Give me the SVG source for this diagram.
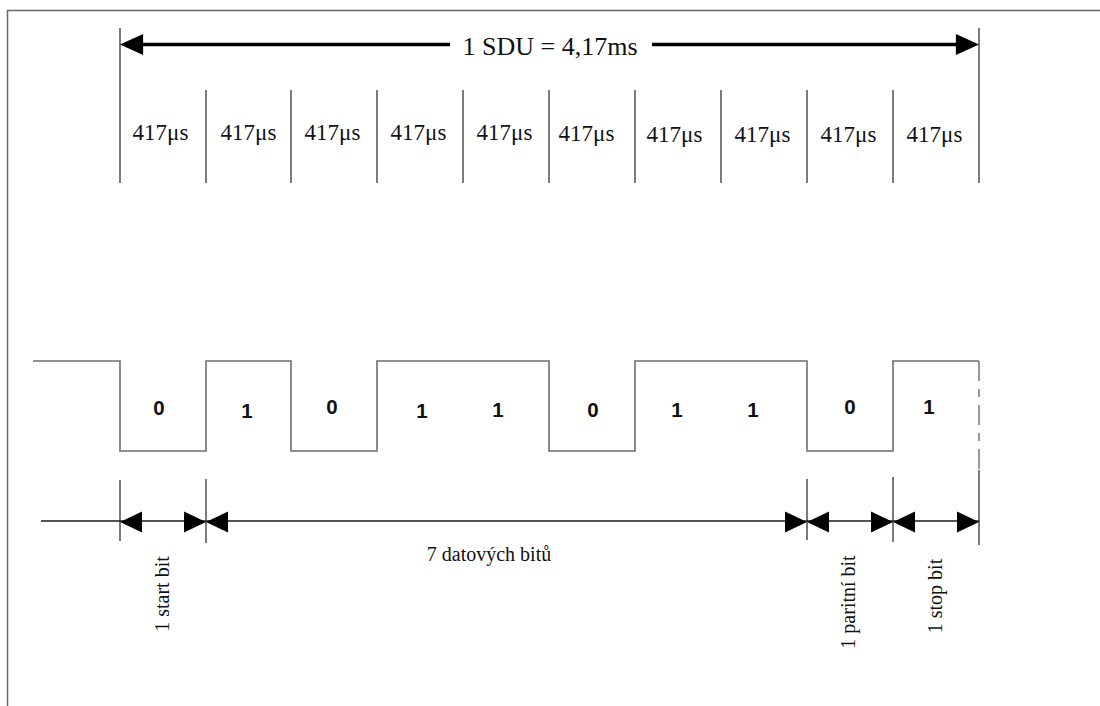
<svg xmlns="http://www.w3.org/2000/svg" width="1100" height="706" viewBox="0 0 1100 706">
<style>
.serif{font-family:"Liberation Serif","Times New Roman",serif;fill:#111}
.us{font-size:23px;text-anchor:middle}
.bit{font-family:"Liberation Sans",Arial,sans-serif;font-weight:bold;font-size:20.5px;text-anchor:middle;fill:#111}
.lbl{font-size:20px;text-anchor:middle}
.tick{stroke:#222;stroke-width:1.2}
.wave{fill:none;stroke:#6e6e6e;stroke-width:1.6}
.dim{stroke:#555;stroke-width:2.2}
.frame{stroke:#666;stroke-width:1.5;fill:none}
</style>
<defs>
<path id="ah" d="M0,0 L-22,-10.5 L-22,10.5 Z" fill="#000"/>
</defs>
<rect width="1100" height="706" fill="#fff"/>
<path class="frame" d="M7.5,706 V10.5 H1100"/>

<g id="sdu">
<line x1="120" y1="28" x2="120" y2="183" class="tick"/>
<line x1="979" y1="28" x2="979" y2="183" class="tick"/>
<line x1="140" y1="44.5" x2="450" y2="44.5" stroke="#000" stroke-width="3.3"/>
<line x1="652" y1="44.5" x2="960" y2="44.5" stroke="#000" stroke-width="3.3"/>
<use href="#ah" transform="translate(120,44.5) scale(-1.05,1)"/>
<use href="#ah" transform="translate(979,44.5) scale(1.05,1)"/>
<text x="550" y="55" class="serif" font-size="26" text-anchor="middle">1 SDU = 4,17ms</text>
</g>

<g id="cells">
<g class="tick">
<line x1="206" y1="90" x2="206" y2="183"/>
<line x1="291" y1="90" x2="291" y2="183"/>
<line x1="377" y1="90" x2="377" y2="183"/>
<line x1="463" y1="90" x2="463" y2="183"/>
<line x1="549" y1="90" x2="549" y2="183"/>
<line x1="635" y1="90" x2="635" y2="183"/>
<line x1="721" y1="90" x2="721" y2="183"/>
<line x1="807" y1="90" x2="807" y2="183"/>
<line x1="893" y1="90" x2="893" y2="183"/>
</g>
<g id="c1"><text x="160.5" y="140" class="serif us">417μs</text></g>
<g id="c2"><text x="248.5" y="140" class="serif us">417μs</text></g>
<g id="c3"><text x="332.5" y="140" class="serif us">417μs</text></g>
<g id="c4"><text x="418.5" y="140" class="serif us">417μs</text></g>
<g id="c5"><text x="504.5" y="140" class="serif us">417μs</text></g>
<g id="c6"><text x="586.5" y="141" class="serif us">417μs</text></g>
<g id="c7"><text x="674.5" y="142" class="serif us">417μs</text></g>
<g id="c8"><text x="762.5" y="142" class="serif us">417μs</text></g>
<g id="c9"><text x="848.5" y="142" class="serif us">417μs</text></g>
<g id="c10"><text x="934.5" y="142" class="serif us">417μs</text></g>
</g>

<g id="waveform">
<path class="wave" d="M33,361 H120 V451 H206 V361 H291 V451 H377 V361 H549 V451 H635 V361 H807 V451 H893 V361 H979"/>
<line x1="979" y1="361" x2="979" y2="470" stroke="#777" stroke-width="1.5" stroke-dasharray="20,8,8,8"/>
</g>

<g id="bits">
<text x="159" y="415" class="bit">0</text>
<text x="247" y="418" class="bit">1</text>
<text x="332" y="414" class="bit">0</text>
<text x="422" y="418" class="bit">1</text>
<text x="498" y="417" class="bit">1</text>
<text x="593" y="417" class="bit">0</text>
<text x="677" y="417" class="bit">1</text>
<text x="753" y="417" class="bit">1</text>
<text x="850" y="414" class="bit">0</text>
<text x="929" y="414" class="bit">1</text>
</g>

<g id="connectors">
<line x1="41" y1="521" x2="979" y2="521" class="dim"/>
<g class="tick">
<line x1="120" y1="480" x2="120" y2="541"/>
<line x1="206" y1="479" x2="206" y2="543"/>
<line x1="807" y1="479" x2="807" y2="540"/>
<line x1="893" y1="477" x2="893" y2="542"/>
<line x1="979" y1="470" x2="979" y2="545"/>
</g>
<use href="#ah" transform="translate(120,522) scale(-1,1)"/>
<use href="#ah" transform="translate(206,522)"/>
<use href="#ah" transform="translate(206,522) scale(-1,1)"/>
<use href="#ah" transform="translate(807,522)"/>
<use href="#ah" transform="translate(807,522) scale(-1,1)"/>
<use href="#ah" transform="translate(893,522)"/>
<use href="#ah" transform="translate(893,522) scale(-1,1)"/>
<use href="#ah" transform="translate(979,522)"/>
</g>

<g id="labels">
<g id="l-start"><text transform="translate(169,594) rotate(-90)" class="serif lbl">1 start bit</text></g>
<g id="l-data"><text x="489" y="561" class="serif lbl">7 datových bitů</text></g>
<g id="l-parity"><text transform="translate(855,602) rotate(-90)" class="serif lbl">1 paritní bit</text></g>
<g id="l-stop"><text transform="translate(942,596) rotate(-90)" class="serif lbl">1 stop bit</text></g>
</g>
</svg>
